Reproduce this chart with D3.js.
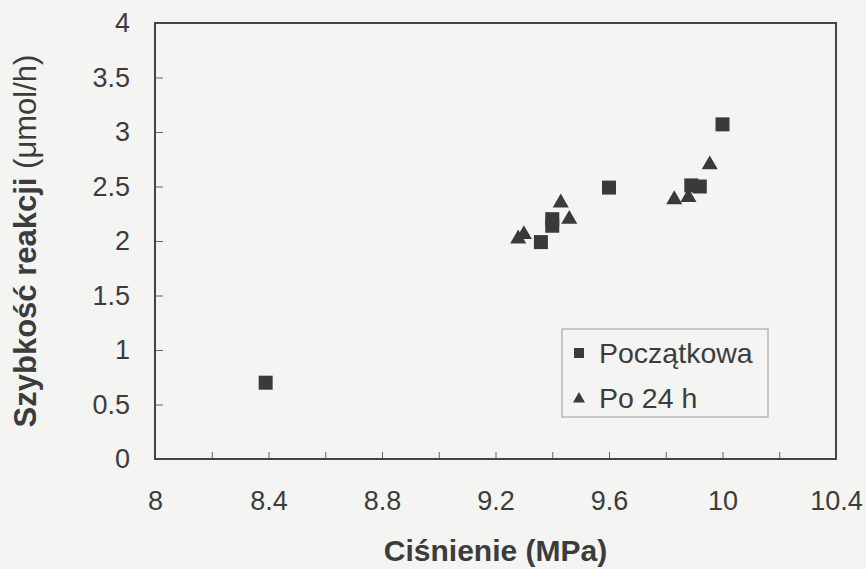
<!DOCTYPE html>
<html>
<head>
<meta charset="utf-8">
<script src="https://cdn.jsdelivr.net/npm/d3@7"></script>
<style>
  body { margin: 0; background: #f4f4f2; }
  text { font-family: "Liberation Sans", Arial, sans-serif; fill: #3c3c3c; }
</style>
</head>
<body>
<script>
// dane
var cisnPocz = [8.39, 9.36, 9.40, 9.40, 9.60, 9.89, 9.92, 10.00];
var szybPocz = [0.70, 1.99, 2.14, 2.20, 2.49, 2.51, 2.50, 3.07];
var cisn24 = [9.28, 9.30, 9.43, 9.46, 9.83, 9.88, 9.955];
var szyb24 = [2.02, 2.06, 2.35, 2.20, 2.38, 2.40, 2.70];
var xTicks = [8, 8.2, 8.4, 8.6, 8.8, 9, 9.2, 9.4, 9.6, 9.8, 10, 10.2, 10.4];
var yTicks = [0, 0.5, 1, 1.5, 2, 2.5, 3, 3.5, 4];
var serie = ["Początkowa", "Po 24 h"];

var larg = 866, haut = 569;
var m = {left: 155, top: 23, right: 30, bottom: 110};

var svg = d3.select("body").append("svg")
  .attr("width", larg)
  .attr("height", haut);

var x = d3.scaleLinear().domain([8, 10.4]).range([m.left, larg - m.right]);
var y = d3.scaleLinear().domain([0, 4]).range([haut - m.bottom, m.top]);

var ink = "#3a3a3a";

// osie
var gx = svg.append("g")
  .attr("transform", "translate(0," + y(0) + ")")
  .call(d3.axisBottom(x).tickValues(xTicks).tickSizeInner(-7).tickSizeOuter(0).tickPadding(32)
    .tickFormat(function(d) { return Math.round(d * 10) % 4 == 0 ? d3.format("")(+d.toFixed(1)) : ""; }));
var gy = svg.append("g")
  .attr("transform", "translate(" + x(8) + ",0)")
  .call(d3.axisLeft(y).tickValues(yTicks).tickSizeInner(-8).tickSizeOuter(0).tickPadding(25)
    .tickFormat(function(d) { return d; }));

[gx, gy].forEach(function(g) {
  g.select(".domain").remove();
  g.selectAll(".tick line").attr("stroke", "#666").attr("stroke-width", 1);
  g.selectAll(".tick text").attr("font-size", 27).style("fill", "#3c3c3c");
});

svg.append("rect")
  .attr("x", x(8)).attr("y", y(4))
  .attr("width", x(10.4) - x(8)).attr("height", y(0) - y(4))
  .attr("fill", "none").attr("stroke", "#444").attr("stroke-width", 2);

// punkty
var kwadrat = d3.symbol().type(d3.symbolSquare).size(196);
var trojkat = d3.symbol().type(d3.symbolTriangle).size(112);

svg.selectAll(".pocz")
  .data(cisnPocz)
  .enter()
  .append("path")
  .attr("d", kwadrat)
  .attr("transform", function(d, i) { return "translate(" + x(d) + "," + y(szybPocz[i]) + ")"; })
  .attr("fill", ink);

svg.selectAll(".po24")
  .data(cisn24)
  .enter()
  .append("path")
  .attr("d", trojkat)
  .attr("transform", function(d, i) { return "translate(" + x(d) + "," + y(szyb24[i]) + ")"; })
  .attr("fill", ink);

// legenda
var leg = svg.append("g").attr("transform", "translate(562,329)");
leg.append("rect")
  .attr("width", 206).attr("height", 88)
  .attr("fill", "none").attr("stroke", "#9a9a9a").attr("stroke-width", 1);
leg.append("path").attr("d", d3.symbol().type(d3.symbolSquare).size(100))
  .attr("transform", "translate(17,24)").attr("fill", ink);
leg.append("path").attr("d", d3.symbol().type(d3.symbolTriangle).size(62))
  .attr("transform", "translate(17,70)").attr("fill", ink);
leg.selectAll(".lt")
  .data(serie)
  .enter()
  .append("text")
  .attr("x", 37)
  .attr("y", function(d, i) { return 34 + i * 45; })
  .attr("font-size", 28.5)
  .text(function(d) { return d; });

// tytuły osi
svg.append("text")
  .attr("x", (x(8) + x(10.4)) / 2).attr("y", 561)
  .attr("text-anchor", "middle").attr("font-size", 30).attr("font-weight", "bold")
  .text("Ciśnienie (MPa)");

var yt = svg.append("text")
  .attr("transform", "translate(36," + (y(0) + y(4)) / 2 + ") rotate(-90)")
  .attr("text-anchor", "middle").attr("font-size", 31);
yt.append("tspan").attr("font-weight", "bold").text("Szybkość reakcji ");
yt.append("tspan").text("(μmol/h)");
</script>
</body>
</html>
